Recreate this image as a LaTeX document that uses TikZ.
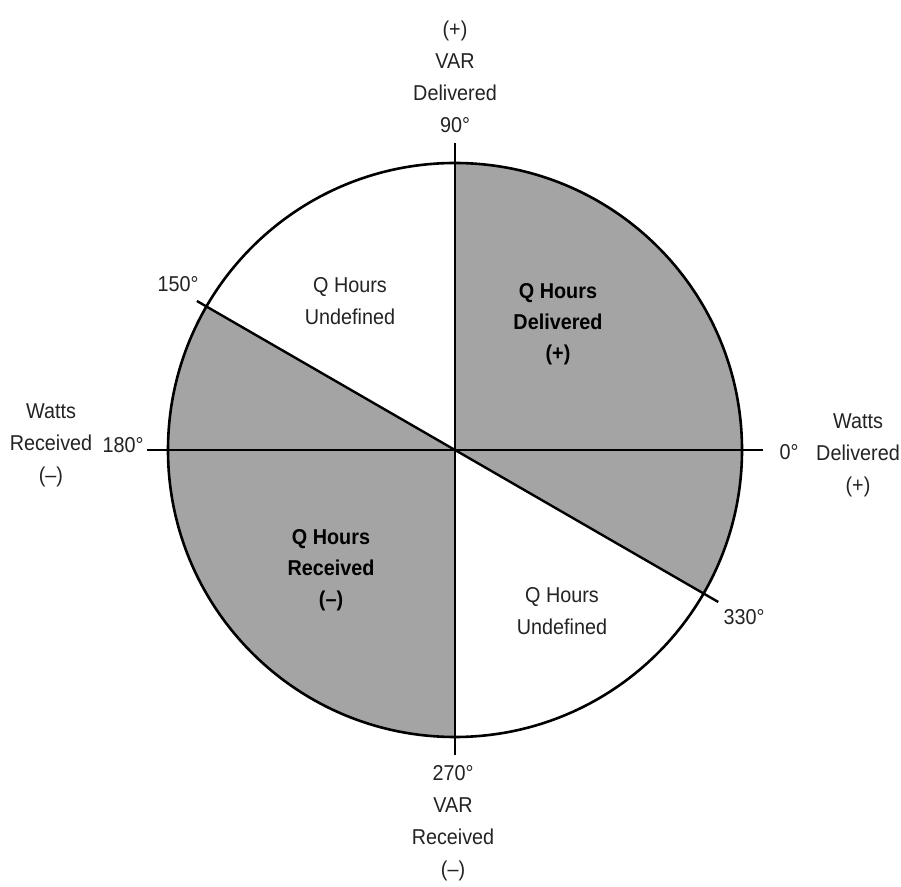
\documentclass[tikz,border=0pt]{standalone}
\usepackage{fontspec}
\setmainfont[FakeStretch=0.92]{Liberation Sans}
\definecolor{sectgray}{RGB}{164,164,164}
\definecolor{ink}{RGB}{35,35,35}
\begin{document}
\begin{tikzpicture}[x=1pt,y=1pt,
  lbl/.style={font=\fontsize{21.5}{32}\selectfont, align=center, inner sep=0pt, text=ink},
  blbl/.style={font=\fontsize{21.5}{31}\selectfont\bfseries, align=center, inner sep=0pt, text=black},
  sect/.style={fill=sectgray},
  axis/.style={draw=black, line width=2.4pt}]
\useasboundingbox[fill=white] (0,0) rectangle (901,886);
\coordinate (O) at (455,436);
\def\R{287}
% sectors
\fill[sect] (O) -- ++(-30:\R) arc[start angle=-30,end angle=90,radius=\R] -- cycle;
\fill[sect] (O) -- ++(150:\R) arc[start angle=150,end angle=270,radius=\R] -- cycle;
% circle
\draw[line width=2.6pt] (O) circle[radius=\R];
% axis end points
\coordinate (N) at ([shift={(90:307)}]O);
\coordinate (S) at ([shift={(270:305)}]O);
\coordinate (W) at ([shift={(180:308)}]O);
\coordinate (E) at ([shift={(0:308)}]O);
\coordinate (A150) at ([shift={(150:298)}]O);
\coordinate (A330) at ([shift={(330:304)}]O);
\draw[axis] (W) -- (E);
\draw[axis] (N) -- (S);
\draw[axis] (A150) -- (A330);
% outer labels
\node[lbl] (top) at (455,809) {(+)\\VAR\\Delivered\\90°};
\node[lbl] (bottom) at (453,63) {270°\\VAR\\Received\\(–)};
\node[lbl] (left) at (51,441) {Watts\\Received\\(–)};
\node[lbl] (d180) at (123,441) {180°};
\node[lbl] (right) at (858,431) {Watts\\Delivered\\(+)};
\node[lbl] (d0) at (789,434) {0°};
\node[lbl] (d150) at (178,602) {150°};
\node[lbl] (d330) at (744,269) {330°};
% inner labels
\node[lbl] (undefA) at (350,585) {Q Hours\\Undefined};
\node[lbl] (undefB) at (562,275) {Q Hours\\Undefined};
\node[blbl] (deliv) at (558,562) {Q Hours\\Delivered\\(+)};
\node[blbl] (recv) at (331,316) {Q Hours\\Received\\(–)};
\end{tikzpicture}
\end{document}
